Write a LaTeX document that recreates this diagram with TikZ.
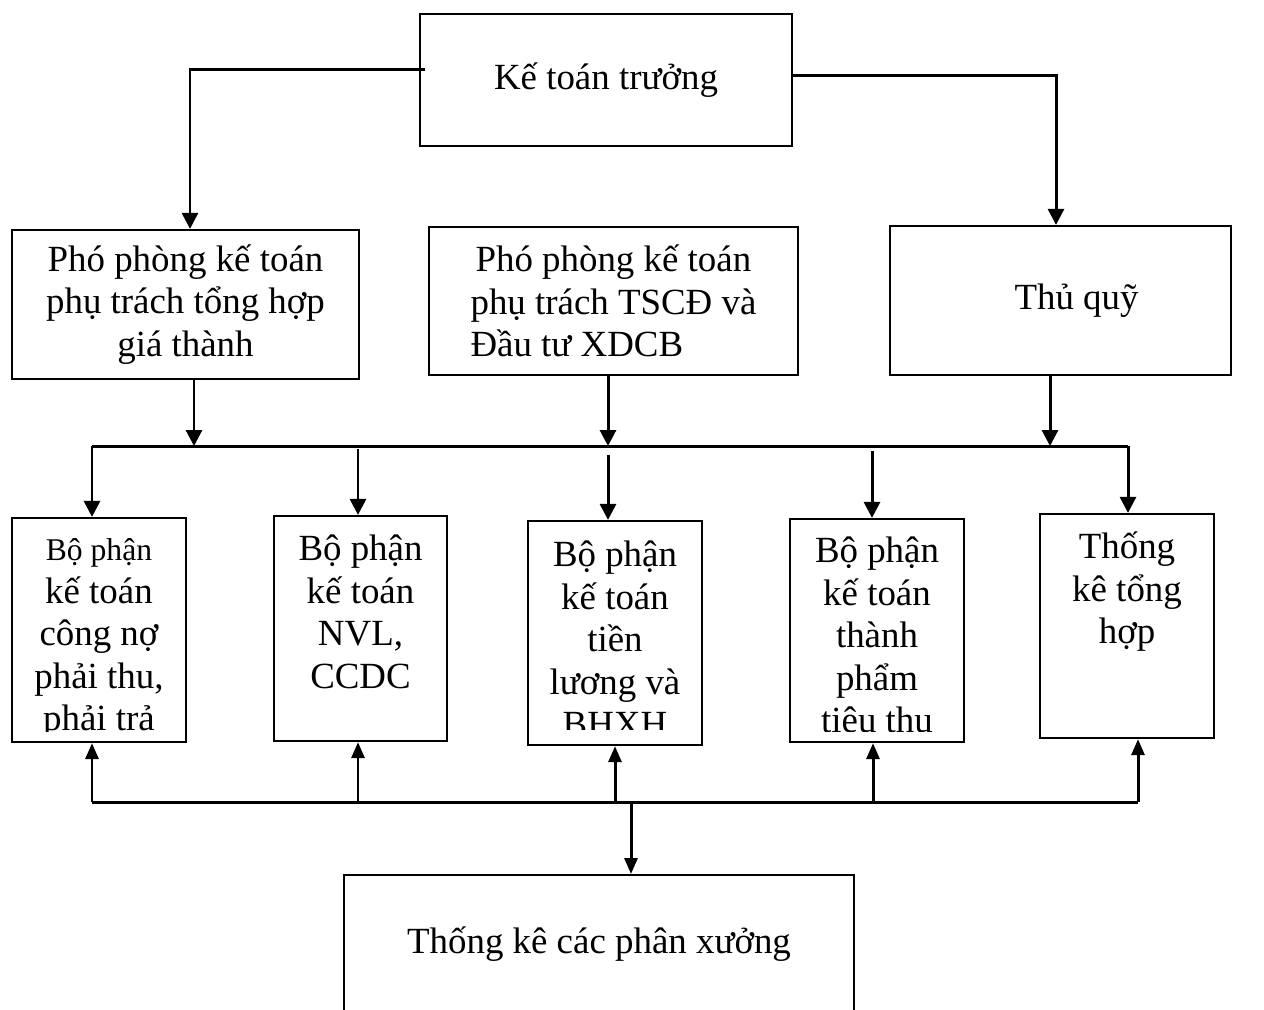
\documentclass[tikz,border=0pt]{standalone}
\usepackage{fontspec}
\setmainfont{Liberation Serif}
\usetikzlibrary{arrows.meta,calc}
\newcommand\firststrut{\rule{0pt}{22pt}}
\tikzset{box/.style={draw, line width=1.3pt, inner sep=0pt, align=center,
  font=\fontsize{21}{24.2}\selectfont}}
\tikzset{btxt/.style={inner sep=0pt, align=center, anchor=north,
  font=\fontsize{21}{24.2}\selectfont}}
\tikzset{arr/.style={line width=1.7pt, -{Triangle[length=0.32cm,width=0.32cm]}}}
\tikzset{uparr/.style={line width=1.7pt, -{Triangle[length=0.32cm,width=0.26cm]}}}
\tikzset{bus/.style={line width=1.7pt}}

\begin{document}
\begin{tikzpicture}[x=0.02cm, y=-0.02cm]
\useasboundingbox (0,0) rectangle (1264,1009);
\clip (0,0) rectangle (1264,1009);

\node[box, minimum width=7.44cm, minimum height=2.64cm] (kt) at (606,80) {Kế toán trưởng};
\node[box, minimum width=6.94cm, minimum height=2.98cm] (pp1) at (185.5,304.5) {Phó phòng kế toán\\phụ trách tổng hợp\\giá thành};
\node[box, minimum width=7.38cm, minimum height=2.96cm, align=left] (pp2) at (613.5,301) {\hspace{0.1cm}Phó phòng kế toán\\phụ trách TSCĐ và\\Đầu tư XDCB};
\node[box, minimum width=6.82cm, minimum height=2.98cm] (tq) at (1060.5,300.5) {\hspace{0.64cm}Thủ quỹ};

\node[box, minimum width=3.48cm, minimum height=4.48cm] (ba) at (99,630) {};
\node[box, minimum width=3.46cm, minimum height=4.5cm] (bb) at (360.5,628.5) {};
\node[box, minimum width=3.48cm, minimum height=4.48cm] (bc) at (615,633) {};
\node[box, minimum width=3.48cm, minimum height=4.46cm] (bd) at (877,630.5) {};
\node[box, minimum width=3.48cm, minimum height=4.48cm] (be) at (1127,626) {};
\node[box, minimum width=10.2cm, minimum height=3.9cm, anchor=north] (tkx) at (599,874) {};
\node[btxt, anchor=base] (tkxt) at (599,953) {Thống kê các phân xưởng};

\begin{scope}
\clip (ba.north west) rectangle ($(ba.south east)+(0,-12)$);
\node[btxt] (bat) at ($(ba.north)+(0,5)$) {{\fontsize{18}{24.2}\selectfont\firststrut Bộ phận}\\kế toán\\công nợ\\phải thu,\\phải trả};
\end{scope}
\begin{scope}
\clip (bb.north west) rectangle ($(bb.south east)+(0,-12)$);
\node[btxt] (bbt) at ($(bb.north)+(0,7)$) {\firststrut Bộ phận\\kế toán\\NVL,\\CCDC};
\end{scope}
\begin{scope}
\clip (bc.north west) rectangle ($(bc.south east)+(0,-17)$);
\node[btxt] (bct) at ($(bc.north)+(0,8)$) {\firststrut Bộ phận\\kế toán\\tiền\\lương và\\BHXH};
\end{scope}
\begin{scope}
\clip (bd.north west) rectangle ($(bd.south east)+(0,-12)$);
\node[btxt] (bdt) at ($(bd.north)+(0,6)$) {\firststrut Bộ phận\\kế toán\\thành\\phẩm\\tiêu thụ};
\end{scope}
\begin{scope}
\clip (be.north west) rectangle ($(be.south east)+(0,-12)$);
\node[btxt] (bet) at ($(be.north)+(0,7)$) {\firststrut Thống\\kê tổng\\hợp};
\end{scope}

\draw[arr] ($(kt.west)+(6,-11)$) -| ($(pp1.north)+(4.5,0)$);
\draw[arr] ($(kt.east)+(0,-5)$) -| ($(tq.north)+(-4.5,0)$);

\coordinate (tl) at (92,446);
\coordinate (tr) at (1128,446);
\draw[bus] (tl) -- (tr);
\coordinate (p1) at ($(pp1.south)+(8.5,0)$);
\coordinate (p2) at ($(pp2.south)+(-5.5,0)$);
\coordinate (p3) at ($(tq.south)+(-10.5,0)$);
\draw[arr] (p1) -- (p1 |- tl);
\draw[arr] (p2) -- (p2 |- tl);
\draw[arr] (p3) -- (p3 |- tl);

\coordinate (d2) at (358,449);
\coordinate (d3) at (608,455);
\coordinate (d4) at (872,451);
\draw[arr] (tl) -- (tl |- ba.north);
\draw[arr] (d2) -- (d2 |- bb.north);
\draw[arr] (d3) -- (d3 |- bc.north);
\draw[arr] (d4) -- (d4 |- bd.north);
\draw[arr] (tr) -- (tr |- be.north);

\coordinate (bl) at (92,802);
\coordinate (brr) at (1138,802);
\draw[bus] (bl) -- (brr);
\coordinate (u2) at (358,802);
\coordinate (u3) at (615,802);
\coordinate (u4) at (873,802);
\draw[uparr] (bl) -- (bl |- ba.south);
\draw[uparr] (u2) -- (u2 |- bb.south);
\draw[uparr] (u3) -- (u3 |- bc.south);
\draw[uparr] (u4) -- (u4 |- bd.south);
\draw[uparr] (brr) -- (brr |- be.south);
\coordinate (dm) at (631,802);
\draw[uparr] (dm) -- (dm |- tkx.north);

\end{tikzpicture}
\end{document}
